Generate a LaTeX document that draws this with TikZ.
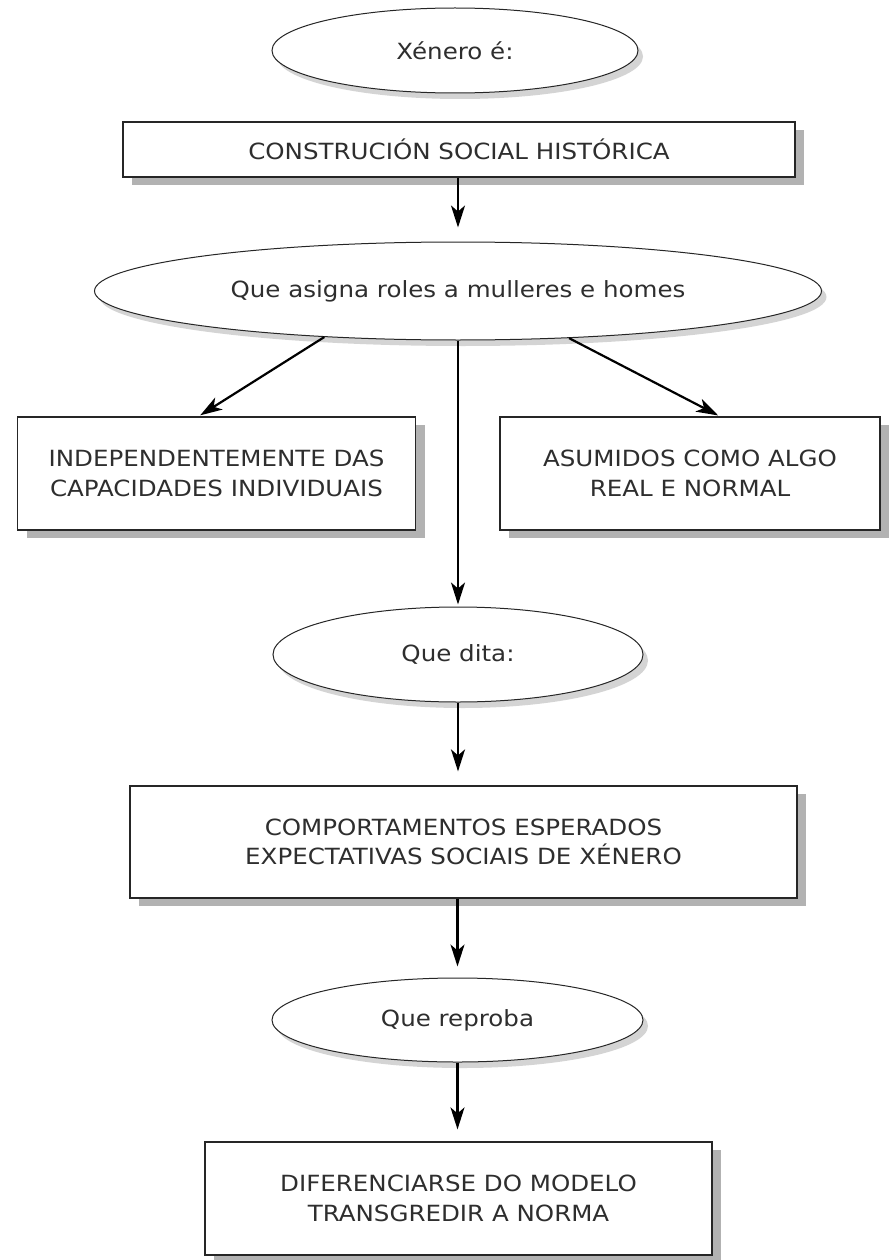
\documentclass[tikz,border=0pt]{standalone}
\usepackage{fontspec}
\setmainfont{DejaVu Sans}[FakeStretch=1.1]
\usetikzlibrary{shadows,arrows.meta,shapes.geometric}
\begin{document}
\begin{tikzpicture}[x=1pt,y=-1pt,
  txt/.style={font=\fontsize{22.3}{29.5}\selectfont, text=black!82},
  oval/.style={ellipse, draw=black!85, line width=1pt, fill=white, inner sep=0pt, txt,
    drop shadow={shadow xshift=5pt, shadow yshift=-6pt, fill=black!33}},
  boxn/.style={rectangle, draw=black!85, line width=1.2pt, fill=white, inner sep=0pt, txt, align=center,
    drop shadow={shadow xshift=9pt, shadow yshift=-8pt, fill=black!30, opacity=1}},
  arr/.style={line width=2.2pt, -{Stealth[length=22pt,width=14pt,inset=6pt]}}]
\useasboundingbox (0,0) rectangle (895,1260);
\fill[white] (0,0) rectangle (895,1260);
\node[oval, minimum width=366pt, minimum height=85pt] (e1) at (455,50.5) {Xénero é:};
\node[boxn, minimum width=672pt, minimum height=55pt] (b1) at (459,149.5) {CONSTRUCIÓN SOCIAL HISTÓRICA};
\node[oval, minimum width=727pt, minimum height=98pt] (e2) at (458,291) {Que asigna roles a mulleres e homes};
\node[boxn, minimum width=398pt, minimum height=113pt] (bl) at (216.5,473.5) {INDEPENDENTEMENTE DAS\\CAPACIDADES INDIVIDUAIS};
\node[boxn, minimum width=380pt, minimum height=113pt] (br) at (690,473.5) {ASUMIDOS COMO ALGO\\REAL E NORMAL};
\node[oval, minimum width=370pt, minimum height=95pt] (e3) at (458,654.5) {Que dita:};
\node[boxn, minimum width=667pt, minimum height=112pt] (b3) at (463.5,842) {COMPORTAMENTOS ESPERADOS\\EXPECTATIVAS SOCIAIS DE XÉNERO};
\node[oval, minimum width=371pt, minimum height=84pt] (e4) at (457.5,1020) {Que reproba};
\node[boxn, minimum width=507pt, minimum height=113pt] (b4) at (458.5,1198.5) {DIFERENCIARSE DO MODELO\\TRANSGREDIR A NORMA};
\draw[arr, shorten >=14pt] (e2.north |- b1.south) -- (e2.north);
\draw[arr, shorten >=2pt] (e2.199.8) -- ([xshift=-18pt]bl.north);
\draw[arr, shorten >=2pt] (e2.337.85) -- ([xshift=30pt]br.north);
\draw[arr, shorten >=2pt] (e2.south) -- (e3.north);
\draw[arr, shorten >=14pt] (e3.south) -- (e3.south |- b3.north);
\draw[arr, shorten >=11pt] (e4.north |- b3.south) -- (e4.north);
\draw[arr, shorten >=12pt] (e4.south) -- (e4.south |- b4.north);
\end{tikzpicture}
\end{document}
